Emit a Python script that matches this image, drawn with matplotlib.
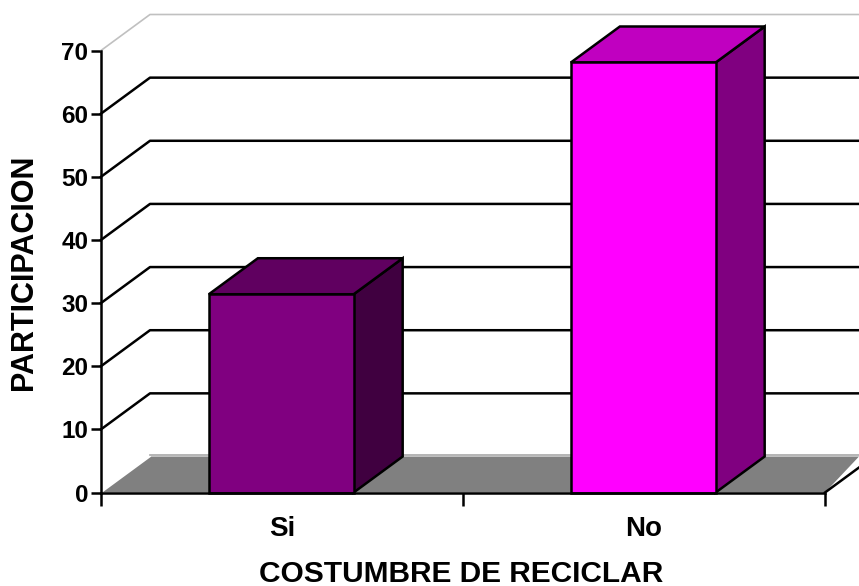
import matplotlib
matplotlib.use('Agg')
import matplotlib.pyplot as plt
from matplotlib.patches import Polygon
import numpy as np

categories = ['Si', 'No']
values = [31.4, 68.1]
front_colors = ['#800080', '#FF00FF']
top_colors = ['#600060', '#C000C0']
side_colors = ['#400040', '#800080']
y_ticks = [0, 10, 20, 30, 40, 50, 60, 70]
x_label = 'COSTUMBRE DE RECICLAR'
y_label = 'PARTICIPACION'

W, H = 859, 586
black = '#000000'

plt.rcParams['font.family'] = ['Liberation Sans', 'DejaVu Sans']

fig = plt.figure(figsize=(W / 100, H / 100), dpi=100)
fig.set_facecolor('white')
ax = fig.add_axes([101 / W, 1 - 492.5 / H, 724 / W, 442 / H])
ax.set_xlim(0, 2)
ax.set_ylim(0, 70)
ax.patch.set_visible(False)

# fake 3d depth, in data units
dx = 49 / 362
dy = 36 / (442 / 70)
bar_w = 0.4
lw = 1.8
x_end = 2 + 34 / 362  # back wall runs off the figure edge


def poly(points, color, edge=black, z=3, line=lw):
    ax.add_patch(Polygon(points, closed=True, facecolor=color, edgecolor=edge,
                         linewidth=line, joinstyle='miter', clip_on=False, zorder=z))


# floor
poly([(0, 0), (dx, dy), (x_end, dy), (2, 0)], '#808080', edge='none', z=1)
ax.plot([0, dx], [0, dy], color='white', lw=1.2, clip_on=False, zorder=1.5)
ax.plot([dx, x_end], [dy + 0.2, dy + 0.2], color='#A8A8A8', lw=1.2, clip_on=False, zorder=1.5)
ax.plot([2, 2 + dx * 34 / 49], [0, dy * 34 / 49], color=black, lw=lw, clip_on=False, zorder=2)

# walls and gridlines
for t in y_ticks[1:]:
    is_top = t == y_ticks[-1]
    c = '#C0C0C0' if is_top else black
    w = 1.2 if is_top else lw
    ax.plot([0, dx, x_end], [t, t + dy, t + dy], color=c, lw=w, clip_on=False, zorder=2)

# bars
for i, v in enumerate(values):
    left = i + 0.5 - bar_w / 2 - 0.002
    right = left + bar_w
    poly([(right, 0), (right + dx, dy), (right + dx, v + dy), (right, v)], side_colors[i], z=3)
    poly([(left, v), (left + dx, v + dy), (right + dx, v + dy), (right, v)], top_colors[i], z=3)
    poly([(left, 0), (right, 0), (right, v), (left, v)], front_colors[i], z=4)

for side in ['top', 'right']:
    ax.spines[side].set_visible(False)
for side in ['left', 'bottom']:
    ax.spines[side].set_linewidth(lw)
    ax.spines[side].set_zorder(5)

ax.set_yticks(y_ticks)
ax.set_xticks([0, 1, 2])
ax.set_xticklabels([])
ax.set_xticks(np.arange(len(categories)) + 0.5, labels=categories, minor=True)
ax.tick_params(axis='y', which='major', length=7, width=lw, pad=2, labelsize=17.5)
ax.tick_params(axis='x', which='major', length=9, width=lw)
ax.tick_params(axis='x', which='minor', length=0, pad=17, labelsize=20)
for lab in ax.get_yticklabels() + ax.get_xticklabels(minor=True):
    lab.set_fontweight('bold')

fig.text(461.5 / W, 1 - 573.5 / H, x_label, ha='center', va='center', fontsize=21.5, fontweight='bold')
fig.text(24 / W, 1 - 272.5 / H, y_label, ha='center', va='center', rotation=90, fontsize=22, fontweight='bold')

fig.savefig('out.png', dpi=100)
